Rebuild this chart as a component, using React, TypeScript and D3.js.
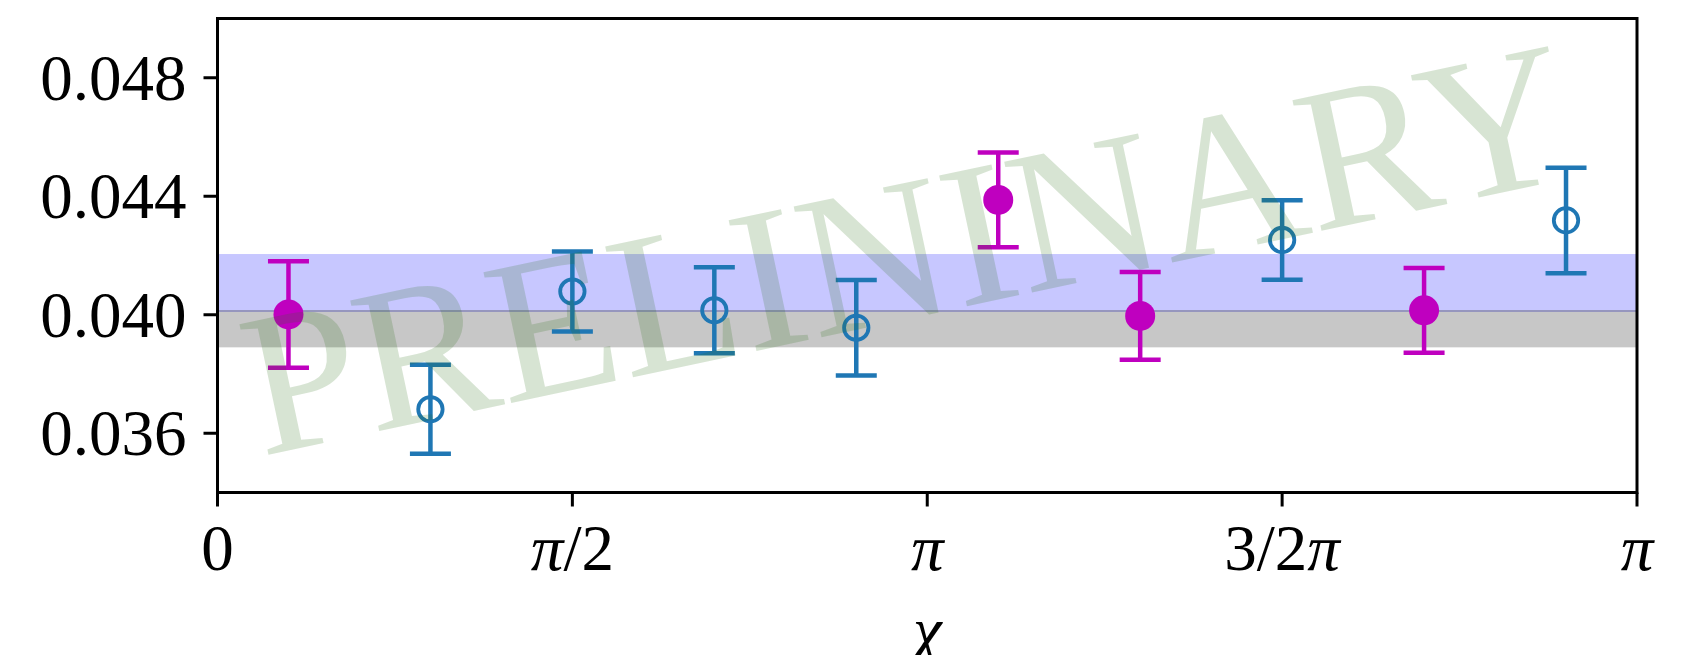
import React from "react";
import * as d3 from "d3";

// Angle positions (in units of π) and values for the two data sets
const filledX = [0.1, 1.1, 1.3, 1.7];
const filledY = [0.04001, 0.043875, 0.03996, 0.04015];
const filledErr = [0.0018, 0.0016, 0.00148, 0.00143];

const openX = [0.3, 0.5, 0.7, 0.9, 1.5, 1.9];
const openY = [0.03681, 0.040785, 0.04015, 0.03956, 0.042525, 0.043185];
const openErr = [0.0015, 0.00135, 0.00145, 0.00161, 0.00134, 0.00178];

// Horizontal reference bands
const upperBand = [0.04013, 0.04205];
const lowerBand = [0.0389, 0.04013];

// Axis ticks
const yTicks = [0.036, 0.04, 0.044, 0.048];
const xTickValues = [0, 0.5, 1, 1.5, 2];
const xTickLabels = [
  [{ t: "0", i: false }],
  [{ t: "π", i: true }, { t: "/2", i: false }],
  [{ t: "π", i: true }],
  [{ t: "3/2", i: false }, { t: "π", i: true }],
  [{ t: "π", i: true }],
];

const W = 1687;
const H = 655;
const left = 217.5;
const right = 1637;
const top = 18.5;
const bottom = 492.5;

const MAGENTA = "#bf00bf";
const BLUE = "#1f77b4";
const FONT = "'Liberation Serif', 'Times New Roman', serif";

export default function App() {
  const x = d3.scaleLinear().domain([0, 2 * Math.PI]).range([left, right]);
  const y = d3.scaleLinear().domain([0.034, 0.05]).range([bottom, top]);
  const capHalf = 20.5;

  const errorBar = (cx: number, cy: number, e: number, color: string, key: string) => {
    const px = x(cx * Math.PI);
    const y0 = y(cy - e);
    const y1 = y(cy + e);
    return (
      <g key={key} stroke={color} strokeWidth={4.5}>
        <line x1={px} x2={px} y1={y0} y2={y1} />
        <line x1={px - capHalf} x2={px + capHalf} y1={y0} y2={y0} />
        <line x1={px - capHalf} x2={px + capHalf} y1={y1} y2={y1} />
      </g>
    );
  };

  // Watermark geometry: baseline midpoint and tilt
  const wmX = 921;
  const wmY = 316;
  const wmAngle = -12;

  return (
    <svg
      width={W}
      height={H}
      style={{ position: "absolute", left: 0, top: 0, display: "block", background: "#fff" }}
    >
      <defs>
        <clipPath id="plotArea">
          <rect x={left} y={top} width={right - left} height={bottom - top} />
        </clipPath>
      </defs>

      {/* bands */}
      <g clipPath="url(#plotArea)">
        <rect
          x={left}
          width={right - left}
          y={y(upperBand[1])}
          height={y(upperBand[0]) - y(upperBand[1])}
          fill="rgb(0,0,255)"
          fillOpacity={0.22}
        />
        <rect
          x={left}
          width={right - left}
          y={y(lowerBand[1])}
          height={y(lowerBand[0]) - y(lowerBand[1])}
          fill="rgb(0,0,0)"
          fillOpacity={0.22}
        />
        <line
          x1={left}
          x2={right}
          y1={y(upperBand[0])}
          y2={y(upperBand[0])}
          stroke="rgb(150,150,190)"
          strokeWidth={2}
        />
      </g>

      {/* error bars and markers */}
      {filledX.map((v, i) => errorBar(v, filledY[i], filledErr[i], MAGENTA, "fe" + i))}
      {filledX.map((v, i) => (
        <circle key={"fm" + i} cx={x(v * Math.PI)} cy={y(filledY[i])} r={15} fill={MAGENTA} />
      ))}
      {openX.map((v, i) => errorBar(v, openY[i], openErr[i], BLUE, "oe" + i))}
      {openX.map((v, i) => (
        <circle
          key={"om" + i}
          cx={x(v * Math.PI)}
          cy={y(openY[i])}
          r={12.2}
          fill="none"
          stroke={BLUE}
          strokeWidth={3.8}
        />
      ))}

      {/* watermark */}
      <text
        x={wmX}
        y={wmY}
        textAnchor="middle"
        transform={`rotate(${wmAngle}, ${wmX}, ${wmY})`}
        fontFamily={FONT}
        fontSize={204}
        fill="rgb(40,110,20)"
        fillOpacity={0.19}
      >
        PRELININARY
      </text>

      {/* frame */}
      <rect
        x={left}
        y={top}
        width={right - left}
        height={bottom - top}
        fill="none"
        stroke="#000"
        strokeWidth={3}
      />

      {/* y axis */}
      {yTicks.map((t) => (
        <g key={"yt" + t}>
          <line x1={left - 14} x2={left} y1={y(t)} y2={y(t)} stroke="#000" strokeWidth={3} />
          <text
            x={left - 31}
            y={y(t)}
            dy="0.34em"
            textAnchor="end"
            fontFamily={FONT}
            fontSize={65}
            fill="#000"
          >
            {d3.format(".3f")(t)}
          </text>
        </g>
      ))}

      {/* x axis */}
      {xTickValues.map((t, i) => (
        <g key={"xt" + i}>
          <line
            x1={x(t * Math.PI)}
            x2={x(t * Math.PI)}
            y1={bottom}
            y2={bottom + 14}
            stroke="#000"
            strokeWidth={3}
          />
          <text
            x={x(t * Math.PI)}
            y={570}
            textAnchor="middle"
            fontFamily={FONT}
            fontSize={65}
            fill="#000"
          >
            {xTickLabels[i].map((p, j) => (
              <tspan key={j} fontStyle={p.i ? "italic" : "normal"}>
                {p.t}
              </tspan>
            ))}
          </text>
        </g>
      ))}

      <text
        x={(left + right) / 2}
        y={652}
        textAnchor="middle"
        fontFamily={FONT}
        fontStyle="italic"
        fontSize={65}
        fill="#000"
      >
        χ
      </text>
    </svg>
  );
}
